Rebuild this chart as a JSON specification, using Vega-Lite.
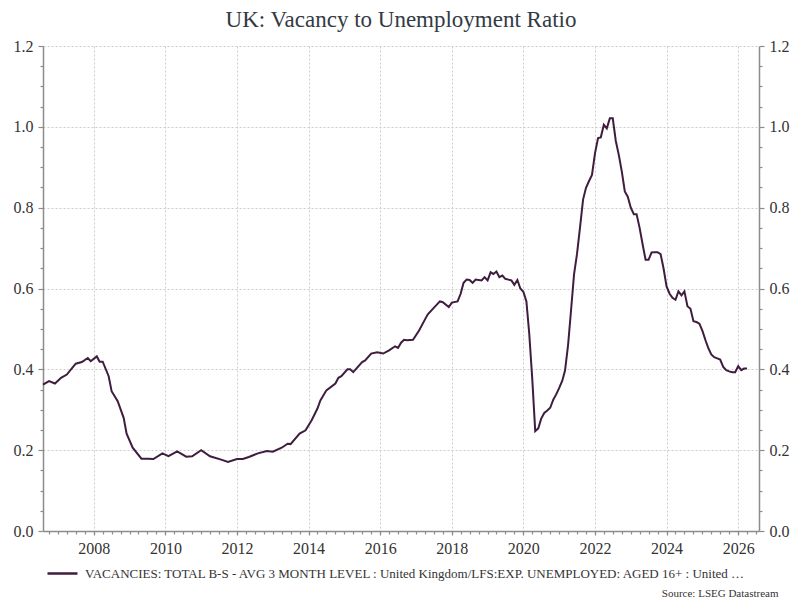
{
  "$schema": "https://vega.github.io/schema/vega-lite/v6.json",
  "description": "UK vacancy to unemployment ratio",
  "autosize": "none",
  "width": 716,
  "height": 485,
  "padding": {"left": 43, "top": 46, "right": 41, "bottom": 69},
  "background": "white",
  "title": {
    "text": "UK: Vacancy to Unemployment Ratio",
    "font": "Liberation Serif",
    "fontSize": 23,
    "fontWeight": "normal",
    "color": "#333a44",
    "anchor": "middle",
    "offset": 6
  },
  "config": {
    "font": "Liberation Serif",
    "view": {"stroke": null},
    "style": {
      "guide-label": {"font": "Liberation Serif", "fontSize": 16, "fill": "#333333"},
      "guide-title": {"font": "Liberation Serif"}
    },
    "axis": {
      "labelFont": "Liberation Serif",
      "labelFontSize": 16,
      "labelColor": "#333333",
      "domainColor": "#8c8c8c",
      "domainWidth": 1.5,
      "tickColor": "#8c8c8c",
      "tickWidth": 1.2,
      "gridColor": "#cccccc",
      "gridDash": [2, 2],
      "gridWidth": 1,
      "title": null
    },
    "legend": {
      "labelFont": "Liberation Serif",
      "labelFontSize": 13,
      "labelColor": "#333333"
    }
  },
  "data": {
    "values": [
      {"date": "2006-08-01", "series": "VACANCIES: TOTAL B-S - AVG 3 MONTH LEVEL : United Kingdom/LFS:EXP. UNEMPLOYED: AGED 16+ : United Kingdom", "ratio": 0.362},
      {"date": "2006-10-01", "series": "VACANCIES: TOTAL B-S - AVG 3 MONTH LEVEL : United Kingdom/LFS:EXP. UNEMPLOYED: AGED 16+ : United Kingdom", "ratio": 0.371},
      {"date": "2006-12-01", "series": "VACANCIES: TOTAL B-S - AVG 3 MONTH LEVEL : United Kingdom/LFS:EXP. UNEMPLOYED: AGED 16+ : United Kingdom", "ratio": 0.365},
      {"date": "2007-02-01", "series": "VACANCIES: TOTAL B-S - AVG 3 MONTH LEVEL : United Kingdom/LFS:EXP. UNEMPLOYED: AGED 16+ : United Kingdom", "ratio": 0.379},
      {"date": "2007-04-01", "series": "VACANCIES: TOTAL B-S - AVG 3 MONTH LEVEL : United Kingdom/LFS:EXP. UNEMPLOYED: AGED 16+ : United Kingdom", "ratio": 0.387},
      {"date": "2007-07-01", "series": "VACANCIES: TOTAL B-S - AVG 3 MONTH LEVEL : United Kingdom/LFS:EXP. UNEMPLOYED: AGED 16+ : United Kingdom", "ratio": 0.414},
      {"date": "2007-09-01", "series": "VACANCIES: TOTAL B-S - AVG 3 MONTH LEVEL : United Kingdom/LFS:EXP. UNEMPLOYED: AGED 16+ : United Kingdom", "ratio": 0.418},
      {"date": "2007-11-01", "series": "VACANCIES: TOTAL B-S - AVG 3 MONTH LEVEL : United Kingdom/LFS:EXP. UNEMPLOYED: AGED 16+ : United Kingdom", "ratio": 0.428},
      {"date": "2007-12-01", "series": "VACANCIES: TOTAL B-S - AVG 3 MONTH LEVEL : United Kingdom/LFS:EXP. UNEMPLOYED: AGED 16+ : United Kingdom", "ratio": 0.420},
      {"date": "2008-02-01", "series": "VACANCIES: TOTAL B-S - AVG 3 MONTH LEVEL : United Kingdom/LFS:EXP. UNEMPLOYED: AGED 16+ : United Kingdom", "ratio": 0.432},
      {"date": "2008-03-01", "series": "VACANCIES: TOTAL B-S - AVG 3 MONTH LEVEL : United Kingdom/LFS:EXP. UNEMPLOYED: AGED 16+ : United Kingdom", "ratio": 0.419},
      {"date": "2008-04-01", "series": "VACANCIES: TOTAL B-S - AVG 3 MONTH LEVEL : United Kingdom/LFS:EXP. UNEMPLOYED: AGED 16+ : United Kingdom", "ratio": 0.419},
      {"date": "2008-06-01", "series": "VACANCIES: TOTAL B-S - AVG 3 MONTH LEVEL : United Kingdom/LFS:EXP. UNEMPLOYED: AGED 16+ : United Kingdom", "ratio": 0.383},
      {"date": "2008-07-01", "series": "VACANCIES: TOTAL B-S - AVG 3 MONTH LEVEL : United Kingdom/LFS:EXP. UNEMPLOYED: AGED 16+ : United Kingdom", "ratio": 0.346},
      {"date": "2008-09-01", "series": "VACANCIES: TOTAL B-S - AVG 3 MONTH LEVEL : United Kingdom/LFS:EXP. UNEMPLOYED: AGED 16+ : United Kingdom", "ratio": 0.321},
      {"date": "2008-11-01", "series": "VACANCIES: TOTAL B-S - AVG 3 MONTH LEVEL : United Kingdom/LFS:EXP. UNEMPLOYED: AGED 16+ : United Kingdom", "ratio": 0.280},
      {"date": "2008-12-01", "series": "VACANCIES: TOTAL B-S - AVG 3 MONTH LEVEL : United Kingdom/LFS:EXP. UNEMPLOYED: AGED 16+ : United Kingdom", "ratio": 0.241},
      {"date": "2009-02-01", "series": "VACANCIES: TOTAL B-S - AVG 3 MONTH LEVEL : United Kingdom/LFS:EXP. UNEMPLOYED: AGED 16+ : United Kingdom", "ratio": 0.206},
      {"date": "2009-05-01", "series": "VACANCIES: TOTAL B-S - AVG 3 MONTH LEVEL : United Kingdom/LFS:EXP. UNEMPLOYED: AGED 16+ : United Kingdom", "ratio": 0.179},
      {"date": "2009-07-01", "series": "VACANCIES: TOTAL B-S - AVG 3 MONTH LEVEL : United Kingdom/LFS:EXP. UNEMPLOYED: AGED 16+ : United Kingdom", "ratio": 0.179},
      {"date": "2009-09-01", "series": "VACANCIES: TOTAL B-S - AVG 3 MONTH LEVEL : United Kingdom/LFS:EXP. UNEMPLOYED: AGED 16+ : United Kingdom", "ratio": 0.178},
      {"date": "2009-12-01", "series": "VACANCIES: TOTAL B-S - AVG 3 MONTH LEVEL : United Kingdom/LFS:EXP. UNEMPLOYED: AGED 16+ : United Kingdom", "ratio": 0.192},
      {"date": "2010-02-01", "series": "VACANCIES: TOTAL B-S - AVG 3 MONTH LEVEL : United Kingdom/LFS:EXP. UNEMPLOYED: AGED 16+ : United Kingdom", "ratio": 0.185},
      {"date": "2010-05-01", "series": "VACANCIES: TOTAL B-S - AVG 3 MONTH LEVEL : United Kingdom/LFS:EXP. UNEMPLOYED: AGED 16+ : United Kingdom", "ratio": 0.197},
      {"date": "2010-08-01", "series": "VACANCIES: TOTAL B-S - AVG 3 MONTH LEVEL : United Kingdom/LFS:EXP. UNEMPLOYED: AGED 16+ : United Kingdom", "ratio": 0.184},
      {"date": "2010-10-01", "series": "VACANCIES: TOTAL B-S - AVG 3 MONTH LEVEL : United Kingdom/LFS:EXP. UNEMPLOYED: AGED 16+ : United Kingdom", "ratio": 0.185},
      {"date": "2011-01-01", "series": "VACANCIES: TOTAL B-S - AVG 3 MONTH LEVEL : United Kingdom/LFS:EXP. UNEMPLOYED: AGED 16+ : United Kingdom", "ratio": 0.200},
      {"date": "2011-04-01", "series": "VACANCIES: TOTAL B-S - AVG 3 MONTH LEVEL : United Kingdom/LFS:EXP. UNEMPLOYED: AGED 16+ : United Kingdom", "ratio": 0.185},
      {"date": "2011-08-01", "series": "VACANCIES: TOTAL B-S - AVG 3 MONTH LEVEL : United Kingdom/LFS:EXP. UNEMPLOYED: AGED 16+ : United Kingdom", "ratio": 0.176},
      {"date": "2011-10-01", "series": "VACANCIES: TOTAL B-S - AVG 3 MONTH LEVEL : United Kingdom/LFS:EXP. UNEMPLOYED: AGED 16+ : United Kingdom", "ratio": 0.171},
      {"date": "2012-01-01", "series": "VACANCIES: TOTAL B-S - AVG 3 MONTH LEVEL : United Kingdom/LFS:EXP. UNEMPLOYED: AGED 16+ : United Kingdom", "ratio": 0.178},
      {"date": "2012-03-01", "series": "VACANCIES: TOTAL B-S - AVG 3 MONTH LEVEL : United Kingdom/LFS:EXP. UNEMPLOYED: AGED 16+ : United Kingdom", "ratio": 0.178},
      {"date": "2012-05-01", "series": "VACANCIES: TOTAL B-S - AVG 3 MONTH LEVEL : United Kingdom/LFS:EXP. UNEMPLOYED: AGED 16+ : United Kingdom", "ratio": 0.183},
      {"date": "2012-08-01", "series": "VACANCIES: TOTAL B-S - AVG 3 MONTH LEVEL : United Kingdom/LFS:EXP. UNEMPLOYED: AGED 16+ : United Kingdom", "ratio": 0.192},
      {"date": "2012-11-01", "series": "VACANCIES: TOTAL B-S - AVG 3 MONTH LEVEL : United Kingdom/LFS:EXP. UNEMPLOYED: AGED 16+ : United Kingdom", "ratio": 0.198},
      {"date": "2013-01-01", "series": "VACANCIES: TOTAL B-S - AVG 3 MONTH LEVEL : United Kingdom/LFS:EXP. UNEMPLOYED: AGED 16+ : United Kingdom", "ratio": 0.196},
      {"date": "2013-04-01", "series": "VACANCIES: TOTAL B-S - AVG 3 MONTH LEVEL : United Kingdom/LFS:EXP. UNEMPLOYED: AGED 16+ : United Kingdom", "ratio": 0.206},
      {"date": "2013-06-01", "series": "VACANCIES: TOTAL B-S - AVG 3 MONTH LEVEL : United Kingdom/LFS:EXP. UNEMPLOYED: AGED 16+ : United Kingdom", "ratio": 0.216},
      {"date": "2013-07-01", "series": "VACANCIES: TOTAL B-S - AVG 3 MONTH LEVEL : United Kingdom/LFS:EXP. UNEMPLOYED: AGED 16+ : United Kingdom", "ratio": 0.215},
      {"date": "2013-10-01", "series": "VACANCIES: TOTAL B-S - AVG 3 MONTH LEVEL : United Kingdom/LFS:EXP. UNEMPLOYED: AGED 16+ : United Kingdom", "ratio": 0.241},
      {"date": "2013-12-01", "series": "VACANCIES: TOTAL B-S - AVG 3 MONTH LEVEL : United Kingdom/LFS:EXP. UNEMPLOYED: AGED 16+ : United Kingdom", "ratio": 0.249},
      {"date": "2014-02-01", "series": "VACANCIES: TOTAL B-S - AVG 3 MONTH LEVEL : United Kingdom/LFS:EXP. UNEMPLOYED: AGED 16+ : United Kingdom", "ratio": 0.274},
      {"date": "2014-04-01", "series": "VACANCIES: TOTAL B-S - AVG 3 MONTH LEVEL : United Kingdom/LFS:EXP. UNEMPLOYED: AGED 16+ : United Kingdom", "ratio": 0.303},
      {"date": "2014-05-01", "series": "VACANCIES: TOTAL B-S - AVG 3 MONTH LEVEL : United Kingdom/LFS:EXP. UNEMPLOYED: AGED 16+ : United Kingdom", "ratio": 0.323},
      {"date": "2014-07-01", "series": "VACANCIES: TOTAL B-S - AVG 3 MONTH LEVEL : United Kingdom/LFS:EXP. UNEMPLOYED: AGED 16+ : United Kingdom", "ratio": 0.348},
      {"date": "2014-10-01", "series": "VACANCIES: TOTAL B-S - AVG 3 MONTH LEVEL : United Kingdom/LFS:EXP. UNEMPLOYED: AGED 16+ : United Kingdom", "ratio": 0.365},
      {"date": "2014-11-01", "series": "VACANCIES: TOTAL B-S - AVG 3 MONTH LEVEL : United Kingdom/LFS:EXP. UNEMPLOYED: AGED 16+ : United Kingdom", "ratio": 0.379},
      {"date": "2014-12-01", "series": "VACANCIES: TOTAL B-S - AVG 3 MONTH LEVEL : United Kingdom/LFS:EXP. UNEMPLOYED: AGED 16+ : United Kingdom", "ratio": 0.383},
      {"date": "2015-02-01", "series": "VACANCIES: TOTAL B-S - AVG 3 MONTH LEVEL : United Kingdom/LFS:EXP. UNEMPLOYED: AGED 16+ : United Kingdom", "ratio": 0.400},
      {"date": "2015-03-01", "series": "VACANCIES: TOTAL B-S - AVG 3 MONTH LEVEL : United Kingdom/LFS:EXP. UNEMPLOYED: AGED 16+ : United Kingdom", "ratio": 0.400},
      {"date": "2015-04-01", "series": "VACANCIES: TOTAL B-S - AVG 3 MONTH LEVEL : United Kingdom/LFS:EXP. UNEMPLOYED: AGED 16+ : United Kingdom", "ratio": 0.393},
      {"date": "2015-07-01", "series": "VACANCIES: TOTAL B-S - AVG 3 MONTH LEVEL : United Kingdom/LFS:EXP. UNEMPLOYED: AGED 16+ : United Kingdom", "ratio": 0.418},
      {"date": "2015-08-01", "series": "VACANCIES: TOTAL B-S - AVG 3 MONTH LEVEL : United Kingdom/LFS:EXP. UNEMPLOYED: AGED 16+ : United Kingdom", "ratio": 0.422},
      {"date": "2015-10-01", "series": "VACANCIES: TOTAL B-S - AVG 3 MONTH LEVEL : United Kingdom/LFS:EXP. UNEMPLOYED: AGED 16+ : United Kingdom", "ratio": 0.439},
      {"date": "2015-12-01", "series": "VACANCIES: TOTAL B-S - AVG 3 MONTH LEVEL : United Kingdom/LFS:EXP. UNEMPLOYED: AGED 16+ : United Kingdom", "ratio": 0.442},
      {"date": "2016-02-01", "series": "VACANCIES: TOTAL B-S - AVG 3 MONTH LEVEL : United Kingdom/LFS:EXP. UNEMPLOYED: AGED 16+ : United Kingdom", "ratio": 0.439},
      {"date": "2016-04-01", "series": "VACANCIES: TOTAL B-S - AVG 3 MONTH LEVEL : United Kingdom/LFS:EXP. UNEMPLOYED: AGED 16+ : United Kingdom", "ratio": 0.447},
      {"date": "2016-06-01", "series": "VACANCIES: TOTAL B-S - AVG 3 MONTH LEVEL : United Kingdom/LFS:EXP. UNEMPLOYED: AGED 16+ : United Kingdom", "ratio": 0.457},
      {"date": "2016-07-01", "series": "VACANCIES: TOTAL B-S - AVG 3 MONTH LEVEL : United Kingdom/LFS:EXP. UNEMPLOYED: AGED 16+ : United Kingdom", "ratio": 0.453},
      {"date": "2016-08-01", "series": "VACANCIES: TOTAL B-S - AVG 3 MONTH LEVEL : United Kingdom/LFS:EXP. UNEMPLOYED: AGED 16+ : United Kingdom", "ratio": 0.466},
      {"date": "2016-09-01", "series": "VACANCIES: TOTAL B-S - AVG 3 MONTH LEVEL : United Kingdom/LFS:EXP. UNEMPLOYED: AGED 16+ : United Kingdom", "ratio": 0.473},
      {"date": "2016-10-01", "series": "VACANCIES: TOTAL B-S - AVG 3 MONTH LEVEL : United Kingdom/LFS:EXP. UNEMPLOYED: AGED 16+ : United Kingdom", "ratio": 0.472},
      {"date": "2016-12-01", "series": "VACANCIES: TOTAL B-S - AVG 3 MONTH LEVEL : United Kingdom/LFS:EXP. UNEMPLOYED: AGED 16+ : United Kingdom", "ratio": 0.473},
      {"date": "2017-02-01", "series": "VACANCIES: TOTAL B-S - AVG 3 MONTH LEVEL : United Kingdom/LFS:EXP. UNEMPLOYED: AGED 16+ : United Kingdom", "ratio": 0.496},
      {"date": "2017-04-01", "series": "VACANCIES: TOTAL B-S - AVG 3 MONTH LEVEL : United Kingdom/LFS:EXP. UNEMPLOYED: AGED 16+ : United Kingdom", "ratio": 0.523},
      {"date": "2017-05-01", "series": "VACANCIES: TOTAL B-S - AVG 3 MONTH LEVEL : United Kingdom/LFS:EXP. UNEMPLOYED: AGED 16+ : United Kingdom", "ratio": 0.536},
      {"date": "2017-07-01", "series": "VACANCIES: TOTAL B-S - AVG 3 MONTH LEVEL : United Kingdom/LFS:EXP. UNEMPLOYED: AGED 16+ : United Kingdom", "ratio": 0.552},
      {"date": "2017-09-01", "series": "VACANCIES: TOTAL B-S - AVG 3 MONTH LEVEL : United Kingdom/LFS:EXP. UNEMPLOYED: AGED 16+ : United Kingdom", "ratio": 0.568},
      {"date": "2017-10-01", "series": "VACANCIES: TOTAL B-S - AVG 3 MONTH LEVEL : United Kingdom/LFS:EXP. UNEMPLOYED: AGED 16+ : United Kingdom", "ratio": 0.566},
      {"date": "2017-12-01", "series": "VACANCIES: TOTAL B-S - AVG 3 MONTH LEVEL : United Kingdom/LFS:EXP. UNEMPLOYED: AGED 16+ : United Kingdom", "ratio": 0.554},
      {"date": "2018-01-01", "series": "VACANCIES: TOTAL B-S - AVG 3 MONTH LEVEL : United Kingdom/LFS:EXP. UNEMPLOYED: AGED 16+ : United Kingdom", "ratio": 0.565},
      {"date": "2018-03-01", "series": "VACANCIES: TOTAL B-S - AVG 3 MONTH LEVEL : United Kingdom/LFS:EXP. UNEMPLOYED: AGED 16+ : United Kingdom", "ratio": 0.568},
      {"date": "2018-04-01", "series": "VACANCIES: TOTAL B-S - AVG 3 MONTH LEVEL : United Kingdom/LFS:EXP. UNEMPLOYED: AGED 16+ : United Kingdom", "ratio": 0.587},
      {"date": "2018-05-01", "series": "VACANCIES: TOTAL B-S - AVG 3 MONTH LEVEL : United Kingdom/LFS:EXP. UNEMPLOYED: AGED 16+ : United Kingdom", "ratio": 0.614},
      {"date": "2018-06-01", "series": "VACANCIES: TOTAL B-S - AVG 3 MONTH LEVEL : United Kingdom/LFS:EXP. UNEMPLOYED: AGED 16+ : United Kingdom", "ratio": 0.622},
      {"date": "2018-07-01", "series": "VACANCIES: TOTAL B-S - AVG 3 MONTH LEVEL : United Kingdom/LFS:EXP. UNEMPLOYED: AGED 16+ : United Kingdom", "ratio": 0.621},
      {"date": "2018-08-01", "series": "VACANCIES: TOTAL B-S - AVG 3 MONTH LEVEL : United Kingdom/LFS:EXP. UNEMPLOYED: AGED 16+ : United Kingdom", "ratio": 0.614},
      {"date": "2018-09-01", "series": "VACANCIES: TOTAL B-S - AVG 3 MONTH LEVEL : United Kingdom/LFS:EXP. UNEMPLOYED: AGED 16+ : United Kingdom", "ratio": 0.622},
      {"date": "2018-11-01", "series": "VACANCIES: TOTAL B-S - AVG 3 MONTH LEVEL : United Kingdom/LFS:EXP. UNEMPLOYED: AGED 16+ : United Kingdom", "ratio": 0.620},
      {"date": "2018-12-01", "series": "VACANCIES: TOTAL B-S - AVG 3 MONTH LEVEL : United Kingdom/LFS:EXP. UNEMPLOYED: AGED 16+ : United Kingdom", "ratio": 0.628},
      {"date": "2019-01-01", "series": "VACANCIES: TOTAL B-S - AVG 3 MONTH LEVEL : United Kingdom/LFS:EXP. UNEMPLOYED: AGED 16+ : United Kingdom", "ratio": 0.620},
      {"date": "2019-02-01", "series": "VACANCIES: TOTAL B-S - AVG 3 MONTH LEVEL : United Kingdom/LFS:EXP. UNEMPLOYED: AGED 16+ : United Kingdom", "ratio": 0.640},
      {"date": "2019-03-01", "series": "VACANCIES: TOTAL B-S - AVG 3 MONTH LEVEL : United Kingdom/LFS:EXP. UNEMPLOYED: AGED 16+ : United Kingdom", "ratio": 0.636},
      {"date": "2019-04-01", "series": "VACANCIES: TOTAL B-S - AVG 3 MONTH LEVEL : United Kingdom/LFS:EXP. UNEMPLOYED: AGED 16+ : United Kingdom", "ratio": 0.642},
      {"date": "2019-05-01", "series": "VACANCIES: TOTAL B-S - AVG 3 MONTH LEVEL : United Kingdom/LFS:EXP. UNEMPLOYED: AGED 16+ : United Kingdom", "ratio": 0.628},
      {"date": "2019-06-01", "series": "VACANCIES: TOTAL B-S - AVG 3 MONTH LEVEL : United Kingdom/LFS:EXP. UNEMPLOYED: AGED 16+ : United Kingdom", "ratio": 0.632},
      {"date": "2019-07-01", "series": "VACANCIES: TOTAL B-S - AVG 3 MONTH LEVEL : United Kingdom/LFS:EXP. UNEMPLOYED: AGED 16+ : United Kingdom", "ratio": 0.624},
      {"date": "2019-08-01", "series": "VACANCIES: TOTAL B-S - AVG 3 MONTH LEVEL : United Kingdom/LFS:EXP. UNEMPLOYED: AGED 16+ : United Kingdom", "ratio": 0.622},
      {"date": "2019-09-01", "series": "VACANCIES: TOTAL B-S - AVG 3 MONTH LEVEL : United Kingdom/LFS:EXP. UNEMPLOYED: AGED 16+ : United Kingdom", "ratio": 0.620},
      {"date": "2019-10-01", "series": "VACANCIES: TOTAL B-S - AVG 3 MONTH LEVEL : United Kingdom/LFS:EXP. UNEMPLOYED: AGED 16+ : United Kingdom", "ratio": 0.609},
      {"date": "2019-11-01", "series": "VACANCIES: TOTAL B-S - AVG 3 MONTH LEVEL : United Kingdom/LFS:EXP. UNEMPLOYED: AGED 16+ : United Kingdom", "ratio": 0.621},
      {"date": "2019-12-01", "series": "VACANCIES: TOTAL B-S - AVG 3 MONTH LEVEL : United Kingdom/LFS:EXP. UNEMPLOYED: AGED 16+ : United Kingdom", "ratio": 0.600},
      {"date": "2020-01-01", "series": "VACANCIES: TOTAL B-S - AVG 3 MONTH LEVEL : United Kingdom/LFS:EXP. UNEMPLOYED: AGED 16+ : United Kingdom", "ratio": 0.592},
      {"date": "2020-02-01", "series": "VACANCIES: TOTAL B-S - AVG 3 MONTH LEVEL : United Kingdom/LFS:EXP. UNEMPLOYED: AGED 16+ : United Kingdom", "ratio": 0.568},
      {"date": "2020-03-01", "series": "VACANCIES: TOTAL B-S - AVG 3 MONTH LEVEL : United Kingdom/LFS:EXP. UNEMPLOYED: AGED 16+ : United Kingdom", "ratio": 0.488},
      {"date": "2020-04-01", "series": "VACANCIES: TOTAL B-S - AVG 3 MONTH LEVEL : United Kingdom/LFS:EXP. UNEMPLOYED: AGED 16+ : United Kingdom", "ratio": 0.375},
      {"date": "2020-05-01", "series": "VACANCIES: TOTAL B-S - AVG 3 MONTH LEVEL : United Kingdom/LFS:EXP. UNEMPLOYED: AGED 16+ : United Kingdom", "ratio": 0.247},
      {"date": "2020-06-01", "series": "VACANCIES: TOTAL B-S - AVG 3 MONTH LEVEL : United Kingdom/LFS:EXP. UNEMPLOYED: AGED 16+ : United Kingdom", "ratio": 0.254},
      {"date": "2020-07-01", "series": "VACANCIES: TOTAL B-S - AVG 3 MONTH LEVEL : United Kingdom/LFS:EXP. UNEMPLOYED: AGED 16+ : United Kingdom", "ratio": 0.278},
      {"date": "2020-08-01", "series": "VACANCIES: TOTAL B-S - AVG 3 MONTH LEVEL : United Kingdom/LFS:EXP. UNEMPLOYED: AGED 16+ : United Kingdom", "ratio": 0.292},
      {"date": "2020-09-01", "series": "VACANCIES: TOTAL B-S - AVG 3 MONTH LEVEL : United Kingdom/LFS:EXP. UNEMPLOYED: AGED 16+ : United Kingdom", "ratio": 0.298},
      {"date": "2020-10-01", "series": "VACANCIES: TOTAL B-S - AVG 3 MONTH LEVEL : United Kingdom/LFS:EXP. UNEMPLOYED: AGED 16+ : United Kingdom", "ratio": 0.305},
      {"date": "2020-11-01", "series": "VACANCIES: TOTAL B-S - AVG 3 MONTH LEVEL : United Kingdom/LFS:EXP. UNEMPLOYED: AGED 16+ : United Kingdom", "ratio": 0.325},
      {"date": "2020-12-01", "series": "VACANCIES: TOTAL B-S - AVG 3 MONTH LEVEL : United Kingdom/LFS:EXP. UNEMPLOYED: AGED 16+ : United Kingdom", "ratio": 0.338},
      {"date": "2021-01-01", "series": "VACANCIES: TOTAL B-S - AVG 3 MONTH LEVEL : United Kingdom/LFS:EXP. UNEMPLOYED: AGED 16+ : United Kingdom", "ratio": 0.354},
      {"date": "2021-02-01", "series": "VACANCIES: TOTAL B-S - AVG 3 MONTH LEVEL : United Kingdom/LFS:EXP. UNEMPLOYED: AGED 16+ : United Kingdom", "ratio": 0.372},
      {"date": "2021-03-01", "series": "VACANCIES: TOTAL B-S - AVG 3 MONTH LEVEL : United Kingdom/LFS:EXP. UNEMPLOYED: AGED 16+ : United Kingdom", "ratio": 0.397},
      {"date": "2021-04-01", "series": "VACANCIES: TOTAL B-S - AVG 3 MONTH LEVEL : United Kingdom/LFS:EXP. UNEMPLOYED: AGED 16+ : United Kingdom", "ratio": 0.460},
      {"date": "2021-05-01", "series": "VACANCIES: TOTAL B-S - AVG 3 MONTH LEVEL : United Kingdom/LFS:EXP. UNEMPLOYED: AGED 16+ : United Kingdom", "ratio": 0.545},
      {"date": "2021-06-01", "series": "VACANCIES: TOTAL B-S - AVG 3 MONTH LEVEL : United Kingdom/LFS:EXP. UNEMPLOYED: AGED 16+ : United Kingdom", "ratio": 0.635},
      {"date": "2021-07-01", "series": "VACANCIES: TOTAL B-S - AVG 3 MONTH LEVEL : United Kingdom/LFS:EXP. UNEMPLOYED: AGED 16+ : United Kingdom", "ratio": 0.685},
      {"date": "2021-08-01", "series": "VACANCIES: TOTAL B-S - AVG 3 MONTH LEVEL : United Kingdom/LFS:EXP. UNEMPLOYED: AGED 16+ : United Kingdom", "ratio": 0.751},
      {"date": "2021-09-01", "series": "VACANCIES: TOTAL B-S - AVG 3 MONTH LEVEL : United Kingdom/LFS:EXP. UNEMPLOYED: AGED 16+ : United Kingdom", "ratio": 0.820},
      {"date": "2021-10-01", "series": "VACANCIES: TOTAL B-S - AVG 3 MONTH LEVEL : United Kingdom/LFS:EXP. UNEMPLOYED: AGED 16+ : United Kingdom", "ratio": 0.849},
      {"date": "2021-11-01", "series": "VACANCIES: TOTAL B-S - AVG 3 MONTH LEVEL : United Kingdom/LFS:EXP. UNEMPLOYED: AGED 16+ : United Kingdom", "ratio": 0.866},
      {"date": "2021-12-01", "series": "VACANCIES: TOTAL B-S - AVG 3 MONTH LEVEL : United Kingdom/LFS:EXP. UNEMPLOYED: AGED 16+ : United Kingdom", "ratio": 0.881},
      {"date": "2022-01-01", "series": "VACANCIES: TOTAL B-S - AVG 3 MONTH LEVEL : United Kingdom/LFS:EXP. UNEMPLOYED: AGED 16+ : United Kingdom", "ratio": 0.935},
      {"date": "2022-02-01", "series": "VACANCIES: TOTAL B-S - AVG 3 MONTH LEVEL : United Kingdom/LFS:EXP. UNEMPLOYED: AGED 16+ : United Kingdom", "ratio": 0.972},
      {"date": "2022-03-01", "series": "VACANCIES: TOTAL B-S - AVG 3 MONTH LEVEL : United Kingdom/LFS:EXP. UNEMPLOYED: AGED 16+ : United Kingdom", "ratio": 0.974},
      {"date": "2022-04-01", "series": "VACANCIES: TOTAL B-S - AVG 3 MONTH LEVEL : United Kingdom/LFS:EXP. UNEMPLOYED: AGED 16+ : United Kingdom", "ratio": 1.005},
      {"date": "2022-05-01", "series": "VACANCIES: TOTAL B-S - AVG 3 MONTH LEVEL : United Kingdom/LFS:EXP. UNEMPLOYED: AGED 16+ : United Kingdom", "ratio": 0.996},
      {"date": "2022-06-01", "series": "VACANCIES: TOTAL B-S - AVG 3 MONTH LEVEL : United Kingdom/LFS:EXP. UNEMPLOYED: AGED 16+ : United Kingdom", "ratio": 1.021},
      {"date": "2022-07-01", "series": "VACANCIES: TOTAL B-S - AVG 3 MONTH LEVEL : United Kingdom/LFS:EXP. UNEMPLOYED: AGED 16+ : United Kingdom", "ratio": 1.021},
      {"date": "2022-08-01", "series": "VACANCIES: TOTAL B-S - AVG 3 MONTH LEVEL : United Kingdom/LFS:EXP. UNEMPLOYED: AGED 16+ : United Kingdom", "ratio": 0.965},
      {"date": "2022-09-01", "series": "VACANCIES: TOTAL B-S - AVG 3 MONTH LEVEL : United Kingdom/LFS:EXP. UNEMPLOYED: AGED 16+ : United Kingdom", "ratio": 0.930},
      {"date": "2022-10-01", "series": "VACANCIES: TOTAL B-S - AVG 3 MONTH LEVEL : United Kingdom/LFS:EXP. UNEMPLOYED: AGED 16+ : United Kingdom", "ratio": 0.890},
      {"date": "2022-11-01", "series": "VACANCIES: TOTAL B-S - AVG 3 MONTH LEVEL : United Kingdom/LFS:EXP. UNEMPLOYED: AGED 16+ : United Kingdom", "ratio": 0.840},
      {"date": "2022-12-01", "series": "VACANCIES: TOTAL B-S - AVG 3 MONTH LEVEL : United Kingdom/LFS:EXP. UNEMPLOYED: AGED 16+ : United Kingdom", "ratio": 0.827},
      {"date": "2023-01-01", "series": "VACANCIES: TOTAL B-S - AVG 3 MONTH LEVEL : United Kingdom/LFS:EXP. UNEMPLOYED: AGED 16+ : United Kingdom", "ratio": 0.800},
      {"date": "2023-02-01", "series": "VACANCIES: TOTAL B-S - AVG 3 MONTH LEVEL : United Kingdom/LFS:EXP. UNEMPLOYED: AGED 16+ : United Kingdom", "ratio": 0.784},
      {"date": "2023-03-01", "series": "VACANCIES: TOTAL B-S - AVG 3 MONTH LEVEL : United Kingdom/LFS:EXP. UNEMPLOYED: AGED 16+ : United Kingdom", "ratio": 0.784},
      {"date": "2023-04-01", "series": "VACANCIES: TOTAL B-S - AVG 3 MONTH LEVEL : United Kingdom/LFS:EXP. UNEMPLOYED: AGED 16+ : United Kingdom", "ratio": 0.750},
      {"date": "2023-05-01", "series": "VACANCIES: TOTAL B-S - AVG 3 MONTH LEVEL : United Kingdom/LFS:EXP. UNEMPLOYED: AGED 16+ : United Kingdom", "ratio": 0.710},
      {"date": "2023-06-01", "series": "VACANCIES: TOTAL B-S - AVG 3 MONTH LEVEL : United Kingdom/LFS:EXP. UNEMPLOYED: AGED 16+ : United Kingdom", "ratio": 0.671},
      {"date": "2023-07-01", "series": "VACANCIES: TOTAL B-S - AVG 3 MONTH LEVEL : United Kingdom/LFS:EXP. UNEMPLOYED: AGED 16+ : United Kingdom", "ratio": 0.671},
      {"date": "2023-08-01", "series": "VACANCIES: TOTAL B-S - AVG 3 MONTH LEVEL : United Kingdom/LFS:EXP. UNEMPLOYED: AGED 16+ : United Kingdom", "ratio": 0.689},
      {"date": "2023-09-01", "series": "VACANCIES: TOTAL B-S - AVG 3 MONTH LEVEL : United Kingdom/LFS:EXP. UNEMPLOYED: AGED 16+ : United Kingdom", "ratio": 0.690},
      {"date": "2023-10-01", "series": "VACANCIES: TOTAL B-S - AVG 3 MONTH LEVEL : United Kingdom/LFS:EXP. UNEMPLOYED: AGED 16+ : United Kingdom", "ratio": 0.690},
      {"date": "2023-11-01", "series": "VACANCIES: TOTAL B-S - AVG 3 MONTH LEVEL : United Kingdom/LFS:EXP. UNEMPLOYED: AGED 16+ : United Kingdom", "ratio": 0.685},
      {"date": "2023-12-01", "series": "VACANCIES: TOTAL B-S - AVG 3 MONTH LEVEL : United Kingdom/LFS:EXP. UNEMPLOYED: AGED 16+ : United Kingdom", "ratio": 0.650},
      {"date": "2024-01-01", "series": "VACANCIES: TOTAL B-S - AVG 3 MONTH LEVEL : United Kingdom/LFS:EXP. UNEMPLOYED: AGED 16+ : United Kingdom", "ratio": 0.605},
      {"date": "2024-02-01", "series": "VACANCIES: TOTAL B-S - AVG 3 MONTH LEVEL : United Kingdom/LFS:EXP. UNEMPLOYED: AGED 16+ : United Kingdom", "ratio": 0.587},
      {"date": "2024-03-01", "series": "VACANCIES: TOTAL B-S - AVG 3 MONTH LEVEL : United Kingdom/LFS:EXP. UNEMPLOYED: AGED 16+ : United Kingdom", "ratio": 0.577},
      {"date": "2024-04-01", "series": "VACANCIES: TOTAL B-S - AVG 3 MONTH LEVEL : United Kingdom/LFS:EXP. UNEMPLOYED: AGED 16+ : United Kingdom", "ratio": 0.572},
      {"date": "2024-05-01", "series": "VACANCIES: TOTAL B-S - AVG 3 MONTH LEVEL : United Kingdom/LFS:EXP. UNEMPLOYED: AGED 16+ : United Kingdom", "ratio": 0.593},
      {"date": "2024-06-01", "series": "VACANCIES: TOTAL B-S - AVG 3 MONTH LEVEL : United Kingdom/LFS:EXP. UNEMPLOYED: AGED 16+ : United Kingdom", "ratio": 0.583},
      {"date": "2024-07-01", "series": "VACANCIES: TOTAL B-S - AVG 3 MONTH LEVEL : United Kingdom/LFS:EXP. UNEMPLOYED: AGED 16+ : United Kingdom", "ratio": 0.593},
      {"date": "2024-08-01", "series": "VACANCIES: TOTAL B-S - AVG 3 MONTH LEVEL : United Kingdom/LFS:EXP. UNEMPLOYED: AGED 16+ : United Kingdom", "ratio": 0.556},
      {"date": "2024-09-01", "series": "VACANCIES: TOTAL B-S - AVG 3 MONTH LEVEL : United Kingdom/LFS:EXP. UNEMPLOYED: AGED 16+ : United Kingdom", "ratio": 0.550},
      {"date": "2024-10-01", "series": "VACANCIES: TOTAL B-S - AVG 3 MONTH LEVEL : United Kingdom/LFS:EXP. UNEMPLOYED: AGED 16+ : United Kingdom", "ratio": 0.519},
      {"date": "2024-11-01", "series": "VACANCIES: TOTAL B-S - AVG 3 MONTH LEVEL : United Kingdom/LFS:EXP. UNEMPLOYED: AGED 16+ : United Kingdom", "ratio": 0.517},
      {"date": "2024-12-01", "series": "VACANCIES: TOTAL B-S - AVG 3 MONTH LEVEL : United Kingdom/LFS:EXP. UNEMPLOYED: AGED 16+ : United Kingdom", "ratio": 0.513},
      {"date": "2025-01-01", "series": "VACANCIES: TOTAL B-S - AVG 3 MONTH LEVEL : United Kingdom/LFS:EXP. UNEMPLOYED: AGED 16+ : United Kingdom", "ratio": 0.495},
      {"date": "2025-02-01", "series": "VACANCIES: TOTAL B-S - AVG 3 MONTH LEVEL : United Kingdom/LFS:EXP. UNEMPLOYED: AGED 16+ : United Kingdom", "ratio": 0.472},
      {"date": "2025-03-01", "series": "VACANCIES: TOTAL B-S - AVG 3 MONTH LEVEL : United Kingdom/LFS:EXP. UNEMPLOYED: AGED 16+ : United Kingdom", "ratio": 0.453},
      {"date": "2025-04-01", "series": "VACANCIES: TOTAL B-S - AVG 3 MONTH LEVEL : United Kingdom/LFS:EXP. UNEMPLOYED: AGED 16+ : United Kingdom", "ratio": 0.437},
      {"date": "2025-05-01", "series": "VACANCIES: TOTAL B-S - AVG 3 MONTH LEVEL : United Kingdom/LFS:EXP. UNEMPLOYED: AGED 16+ : United Kingdom", "ratio": 0.430},
      {"date": "2025-06-01", "series": "VACANCIES: TOTAL B-S - AVG 3 MONTH LEVEL : United Kingdom/LFS:EXP. UNEMPLOYED: AGED 16+ : United Kingdom", "ratio": 0.427},
      {"date": "2025-07-01", "series": "VACANCIES: TOTAL B-S - AVG 3 MONTH LEVEL : United Kingdom/LFS:EXP. UNEMPLOYED: AGED 16+ : United Kingdom", "ratio": 0.424},
      {"date": "2025-08-01", "series": "VACANCIES: TOTAL B-S - AVG 3 MONTH LEVEL : United Kingdom/LFS:EXP. UNEMPLOYED: AGED 16+ : United Kingdom", "ratio": 0.406},
      {"date": "2025-09-01", "series": "VACANCIES: TOTAL B-S - AVG 3 MONTH LEVEL : United Kingdom/LFS:EXP. UNEMPLOYED: AGED 16+ : United Kingdom", "ratio": 0.398},
      {"date": "2025-10-01", "series": "VACANCIES: TOTAL B-S - AVG 3 MONTH LEVEL : United Kingdom/LFS:EXP. UNEMPLOYED: AGED 16+ : United Kingdom", "ratio": 0.395},
      {"date": "2025-11-01", "series": "VACANCIES: TOTAL B-S - AVG 3 MONTH LEVEL : United Kingdom/LFS:EXP. UNEMPLOYED: AGED 16+ : United Kingdom", "ratio": 0.393},
      {"date": "2025-12-01", "series": "VACANCIES: TOTAL B-S - AVG 3 MONTH LEVEL : United Kingdom/LFS:EXP. UNEMPLOYED: AGED 16+ : United Kingdom", "ratio": 0.393},
      {"date": "2026-01-01", "series": "VACANCIES: TOTAL B-S - AVG 3 MONTH LEVEL : United Kingdom/LFS:EXP. UNEMPLOYED: AGED 16+ : United Kingdom", "ratio": 0.408},
      {"date": "2026-02-01", "series": "VACANCIES: TOTAL B-S - AVG 3 MONTH LEVEL : United Kingdom/LFS:EXP. UNEMPLOYED: AGED 16+ : United Kingdom", "ratio": 0.398},
      {"date": "2026-03-01", "series": "VACANCIES: TOTAL B-S - AVG 3 MONTH LEVEL : United Kingdom/LFS:EXP. UNEMPLOYED: AGED 16+ : United Kingdom", "ratio": 0.402},
      {"date": "2026-04-01", "series": "VACANCIES: TOTAL B-S - AVG 3 MONTH LEVEL : United Kingdom/LFS:EXP. UNEMPLOYED: AGED 16+ : United Kingdom", "ratio": 0.402}
    ]
  },
  "layer": [
    {
      "mark": {"type": "line", "strokeWidth": 2, "interpolate": "linear"},
      "encoding": {
        "x": {
          "field": "date",
          "type": "temporal",
          "scale": {"type": "utc", "domain": [{"year": 2006, "month": 8, "date": 1, "utc": true}, {"year": 2026, "month": 8, "date": 1, "utc": true}], "nice": false},
          "axis": {
            "orient": "bottom",
            "format": "%Y",
            "values": [
              {"year": 2008, "month": 1, "date": 1, "utc": true},
              {"year": 2010, "month": 1, "date": 1, "utc": true},
              {"year": 2012, "month": 1, "date": 1, "utc": true},
              {"year": 2014, "month": 1, "date": 1, "utc": true},
              {"year": 2016, "month": 1, "date": 1, "utc": true},
              {"year": 2018, "month": 1, "date": 1, "utc": true},
              {"year": 2020, "month": 1, "date": 1, "utc": true},
              {"year": 2022, "month": 1, "date": 1, "utc": true},
              {"year": 2024, "month": 1, "date": 1, "utc": true},
              {"year": 2026, "month": 1, "date": 1, "utc": true}
            ],
            "grid": true,
            "tickSize": 4,
            "labelPadding": 5,
            "labelFont": "Liberation Serif",
            "labelFontSize": 16,
            "labelFlush": false,
            "labelOverlap": false
          }
        },
        "y": {
          "field": "ratio",
          "type": "quantitative",
          "scale": {"domain": [0, 1.2], "nice": false, "zero": true},
          "axis": {
            "orient": "left",
            "values": [0, 0.2, 0.4, 0.6, 0.8, 1.0, 1.2],
            "format": ".1f",
            "grid": true,
            "tickSize": 5,
            "labelPadding": 5,
            "labelFont": "Liberation Serif",
            "labelFontSize": 16
          }
        },
        "color": {
          "field": "series",
          "type": "nominal",
          "scale": {"range": ["#3f1d3f"]},
          "legend": {
            "title": null,
            "orient": "none",
            "legendX": 3,
            "legendY": 511,
            "symbolType": "stroke",
            "symbolSize": 900,
            "symbolStrokeWidth": 2.5,
            "symbolStrokeColor": "#5e3558",
            "labelFont": "Liberation Serif",
            "labelFontSize": 13,
            "labelLimit": 668,
            "labelOffset": 6
          }
        }
      }
    },
    {
      "mark": {"type": "line", "strokeOpacity": 0},
      "encoding": {
        "x": {
          "field": "date",
          "type": "temporal",
          "axis": {
            "orient": "bottom",
            "tickCount": {"interval": "month", "step": 3},
            "labels": false,
            "grid": false,
            "domain": false,
            "tickSize": 3,
            "title": "Source: LSEG Datastream",
            "titleFont": "Liberation Serif",
            "titleFontSize": 11,
            "titleFontWeight": "normal",
            "titleColor": "#333333",
            "titleAnchor": "end",
            "titleAlign": "right",
            "titleBaseline": "alphabetic",
            "titleX": 735,
            "titleY": 65
          }
        },
        "y": {
          "field": "ratio",
          "type": "quantitative",
          "axis": {
            "orient": "left",
            "values": [0.05, 0.1, 0.15, 0.25, 0.3, 0.35, 0.45, 0.5, 0.55, 0.65, 0.7, 0.75, 0.85, 0.9, 0.95, 1.05, 1.1, 1.15],
            "labels": false,
            "grid": false,
            "domain": false,
            "tickSize": 3
          }
        }
      }
    },
    {
      "mark": {"type": "line", "strokeOpacity": 0},
      "encoding": {
        "x": {"field": "date", "type": "temporal", "axis": null},
        "y": {
          "field": "ratio",
          "type": "quantitative",
          "axis": {
            "orient": "right",
            "values": [0, 0.2, 0.4, 0.6, 0.8, 1.0, 1.2],
            "format": ".1f",
            "grid": false,
            "tickSize": 5,
            "labelPadding": 5,
            "labelFont": "Liberation Serif",
            "labelFontSize": 16
          }
        }
      }
    },
    {
      "mark": {"type": "line", "strokeOpacity": 0},
      "encoding": {
        "x": {"field": "date", "type": "temporal", "axis": null},
        "y": {
          "field": "ratio",
          "type": "quantitative",
          "axis": {
            "orient": "right",
            "values": [0.05, 0.1, 0.15, 0.25, 0.3, 0.35, 0.45, 0.5, 0.55, 0.65, 0.7, 0.75, 0.85, 0.9, 0.95, 1.05, 1.1, 1.15],
            "labels": false,
            "grid": false,
            "domain": false,
            "tickSize": 3
          }
        }
      }
    }
  ],
  "resolve": {"axis": {"x": "independent", "y": "independent"}}
}
